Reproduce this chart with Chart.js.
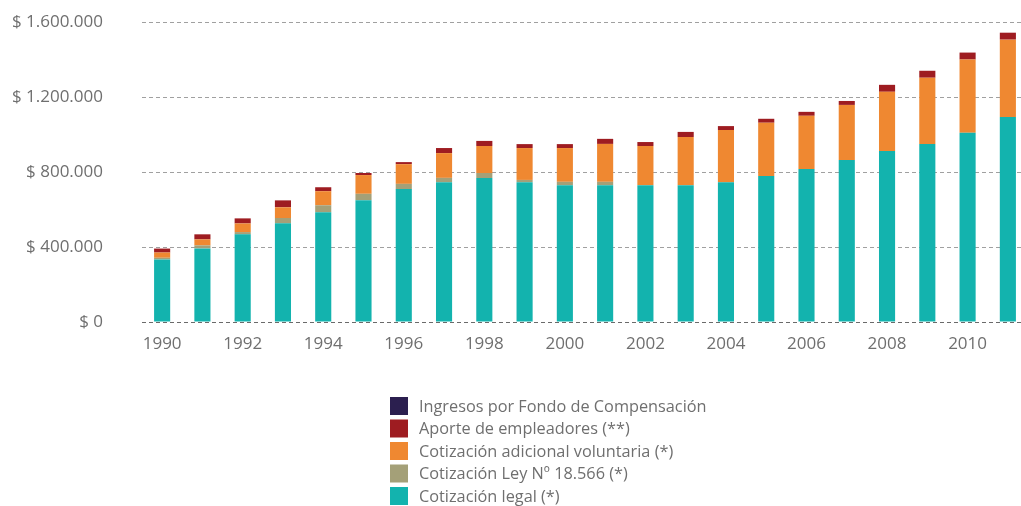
<!DOCTYPE html>
<html>
<head>
<meta charset="utf-8">
<script src="https://cdn.jsdelivr.net/npm/chart.js@4.4.1/dist/chart.umd.min.js"></script>
<style>
  html, body { margin: 0; padding: 0; background: #fff; overflow: hidden; }
  #wrap { position: relative; width: 1021px; height: 506px; overflow: hidden; }
</style>
</head>
<body>
<div id="wrap"><canvas id="c" width="1028" height="506"></canvas></div>
<script>
// values in pesos
const years = ['1990','1991','1992','1993','1994','1995','1996','1997','1998','1999','2000',
               '2001','2002','2003','2004','2005','2006','2007','2008','2009','2010','2011'];

const cotizacionLegal = [334000, 393000, 468000, 527000, 586000, 650000, 709000, 746000, 768000, 746000, 730000,
                         730000, 730000, 730000, 746000, 779000, 816000, 864000, 912000, 950000, 1009000, 1094000];
const cotizacionLey   = [9000, 16000, 12000, 28000, 37000, 34000, 28000, 23000, 27000, 12000, 18000,
                         18000, 0, 0, 0, 0, 0, 0, 0, 0, 0, 0];
const cotizacionAdic  = [28000, 32000, 46000, 57000, 75000, 100000, 105000, 132000, 144000, 170000, 180000,
                         202000, 209000, 257000, 278000, 284000, 284000, 294000, 316000, 353000, 391000, 412000];
const aporteEmpl      = [21000, 27000, 27000, 37000, 21000, 11000, 11000, 27000, 27000, 21000, 21000,
                         27000, 21000, 27000, 21000, 21000, 21000, 21000, 37000, 37000, 37000, 37000];
const fondoCompens    = [0, 0, 0, 0, 0, 0, 0, 0, 0, 0, 0, 0, 0, 0, 0, 0, 0, 0, 0, 0, 0, 0];

const yTicks = [0, 400000, 800000, 1200000, 1600000];

const FONT = '"Open Sans", "DejaVu Sans", sans-serif';
const TEXT = '#6f6f6f';

function peso(v) {
    return '$ ' + String(v).replace(/\B(?=(\d{3})+(?!\d))/g, '.');
}

// vertical legend under the plot, drawn from the datasets (top of stack first)
const listLegend = {
    id: 'listLegend',
    afterDraw(chart) {
        const ctx = chart.ctx;
        const items = chart.data.datasets.slice().reverse();
        const x = 390, top = 397, row = 22.5, box = 18;
        ctx.save();
        ctx.font = '16.3px ' + FONT;
        ctx.textBaseline = 'middle';
        ctx.textAlign = 'left';
        items.forEach((ds, i) => {
            const y = top + i * row;
            ctx.fillStyle = ds.backgroundColor;
            ctx.fillRect(x, y, box, box);
            ctx.fillStyle = TEXT;
            ctx.fillText(ds.label, x + 29, y + box / 2 + 1);
        });
        ctx.restore();
    }
};

new Chart(document.getElementById('c'), {
    type: 'bar',
    data: {
        labels: years,
        datasets: [
            { label: 'Cotización legal (*)',                data: cotizacionLegal, backgroundColor: '#13b3ae' },
            { label: 'Cotización Ley Nº 18.566 (*)',        data: cotizacionLey,   backgroundColor: '#a4a078' },
            { label: 'Cotización adicional voluntaria (*)', data: cotizacionAdic,  backgroundColor: '#ef8831' },
            { label: 'Aporte de empleadores (**)',          data: aporteEmpl,      backgroundColor: '#9e1c21' },
            { label: 'Ingresos por Fondo de Compensación',  data: fondoCompens,    backgroundColor: '#2b1f4f' }
        ]
    },
    options: {
        responsive: false,
        animation: false,
        layout: { padding: { top: 22, left: 10, right: 0, bottom: 147.5 } },
        datasets: { bar: { categoryPercentage: 1.0, barPercentage: 0.4 } },
        plugins: {
            legend: { display: false },
            tooltip: { enabled: false }
        },
        scales: {
            x: {
                stacked: true,
                grid: { display: false },
                border: { display: false },
                ticks: {
                    autoSkip: false,
                    maxRotation: 0,
                    color: TEXT,
                    font: { family: FONT, size: 17 },
                    padding: 4,
                    callback: (v, i) => (i % 2 === 0 ? years[i] : '')
                }
            },
            y: {
                stacked: true,
                min: 0,
                max: 1600000,
                afterBuildTicks: axis => { axis.ticks = yTicks.map(v => ({ value: v })); },
                afterFit: axis => {
                    axis.width = 132;
                    // the big label gap should not push the plot down
                    axis.paddingTop = 0;
                    axis.paddingBottom = 0;
                },
                grid: {
                    drawTicks: false,
                    color: c => (c.tick && c.tick.value === 0 ? '#6a6a6a' : '#a0a0a0'),
                    lineWidth: 1
                },
                border: { display: false, dash: [4, 3] },
                ticks: {
                    color: TEXT,
                    font: { family: FONT, size: 17 },
                    padding: 39,
                    callback: v => peso(v)
                }
            }
        }
    },
    plugins: [listLegend]
});
</script>
</body>
</html>
